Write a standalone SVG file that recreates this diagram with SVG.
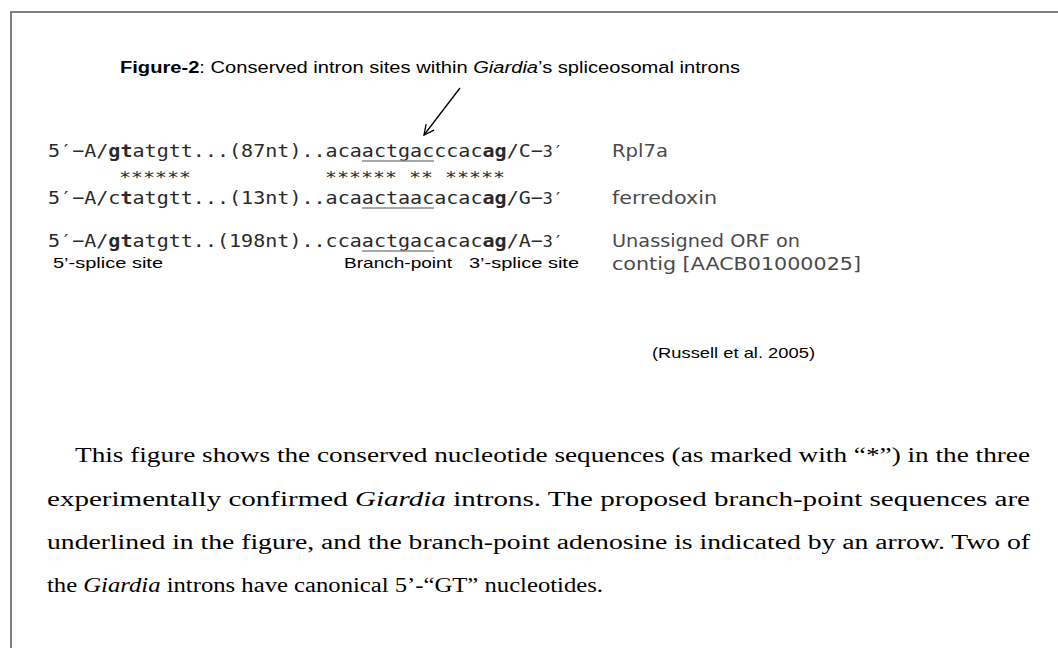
<svg xmlns="http://www.w3.org/2000/svg" width="1058" height="648" viewBox="0 0 1058 648">
<defs>
<marker id="ah" viewBox="0 0 12 12" refX="11" refY="6" markerWidth="12" markerHeight="12" markerUnits="userSpaceOnUse" orient="auto">
<path d="M1,1 L11,6 L1,11" fill="none" stroke="#000" stroke-width="1.3"/>
</marker>
<style>
.frame{stroke:#808080;stroke-width:2;fill:none}
.title{font-family:"Liberation Sans",Arial,sans-serif;font-size:16px;fill:#000}
.seq{font-family:"DejaVu Sans Mono",monospace;font-size:18px;fill:#2a2a2a}
.ast{font-family:"DejaVu Sans Mono",monospace;font-size:15px;fill:#2a2a2a}
.b{font-weight:bold}
.ul{stroke:#8a8a8a;stroke-width:1.5}
.lab{font-family:"DejaVu Sans",sans-serif;font-size:18px;fill:#4a4a4a}
.small{font-family:"Liberation Sans",Arial,sans-serif;font-size:15px;fill:#000}
.para{font-family:"Liberation Serif","Times New Roman",serif;font-size:20px;fill:#000}
.conn{stroke:#000;stroke-width:1.3;fill:none}
</style>
</defs>
<rect width="1058" height="648" fill="#fff"/>
<path class="frame" d="M11,648 L11,12 L1058,12"/>
<g id="title">
<text class="title" x="120" y="73" textLength="620" lengthAdjust="spacingAndGlyphs"><tspan font-weight="bold">Figure-2</tspan>: Conserved intron sites within <tspan font-style="italic">Giardia</tspan>’s spliceosomal introns</text>
</g>
<g id="connectors">
<line class="conn" x1="460" y1="88" x2="424" y2="135" marker-end="url(#ah)"/>
</g>
<g id="seq-rpl7a">
<text class="seq" x="48" y="157" textLength="515" lengthAdjust="spacingAndGlyphs">5′−A/<tspan class="b">gt</tspan>atgtt...(87nt)..acaactgacccac<tspan class="b">ag</tspan>/C−<tspan font-size="15">3′</tspan></text>
<line class="ul" x1="362" y1="161" x2="434" y2="161"/>
<text class="lab" x="612" y="157" textLength="56" lengthAdjust="spacingAndGlyphs">Rpl7a</text>
</g>
<g id="asterisks">
<text class="ast" x="119" y="183" textLength="72" lengthAdjust="spacingAndGlyphs">******</text>
<text class="ast" x="325" y="183" textLength="180" lengthAdjust="spacingAndGlyphs" xml:space="preserve">****** ** *****</text>
</g>
<g id="seq-ferredoxin">
<text class="seq" x="48" y="204" textLength="515" lengthAdjust="spacingAndGlyphs">5′−A/c<tspan class="b">t</tspan>atgtt...(13nt)..acaactaacacac<tspan class="b">ag</tspan>/G−<tspan font-size="15">3′</tspan></text>
<line class="ul" x1="362" y1="208" x2="434" y2="208"/>
<text class="lab" x="612" y="204" textLength="105" lengthAdjust="spacingAndGlyphs">ferredoxin</text>
</g>
<g id="seq-orf">
<text class="seq" x="48" y="247" textLength="515" lengthAdjust="spacingAndGlyphs">5′−A/<tspan class="b">gt</tspan>atgtt..(198nt)..ccaactgacacac<tspan class="b">ag</tspan>/A−<tspan font-size="15">3′</tspan></text>
<line class="ul" x1="362" y1="251" x2="434" y2="251"/>
<text class="lab" x="612" y="247" textLength="188" lengthAdjust="spacingAndGlyphs">Unassigned ORF on</text>
<text class="lab" x="612" y="270" textLength="249" lengthAdjust="spacingAndGlyphs">contig [AACB01000025]</text>
</g>
<g id="site-labels">
<text class="small" x="53" y="268" textLength="110" lengthAdjust="spacingAndGlyphs">5’-splice site</text>
<text class="small" x="344" y="268" textLength="108" lengthAdjust="spacingAndGlyphs">Branch-point</text>
<text class="small" x="469" y="268" textLength="110" lengthAdjust="spacingAndGlyphs">3’-splice site</text>
</g>
<g id="citation">
<text class="small" x="652" y="358" textLength="163" lengthAdjust="spacingAndGlyphs">(Russell et al. 2005)</text>
</g>
<g id="caption">
<text class="para" x="75" y="462" textLength="955" lengthAdjust="spacingAndGlyphs">This figure shows the conserved nucleotide sequences (as marked with “*”) in the three</text>
<text class="para" x="47" y="506" textLength="983" lengthAdjust="spacingAndGlyphs">experimentally confirmed <tspan font-style="italic">Giardia</tspan> introns. The proposed branch-point sequences are</text>
<text class="para" x="47" y="549" textLength="983" lengthAdjust="spacingAndGlyphs">underlined in the figure, and the branch-point adenosine is indicated by an arrow. Two of</text>
<text class="para" x="47" y="592" textLength="556" lengthAdjust="spacingAndGlyphs">the <tspan font-style="italic">Giardia</tspan> introns have canonical 5’-“GT” nucleotides.</text>
</g>
</svg>
